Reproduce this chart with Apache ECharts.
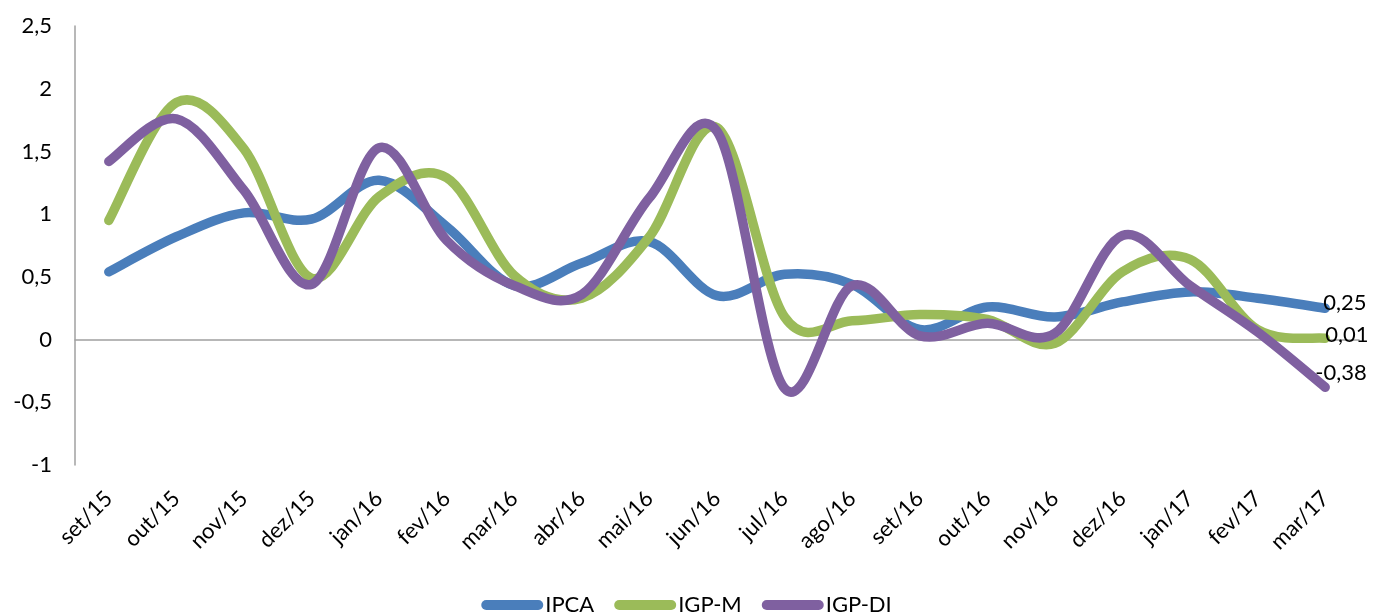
<!DOCTYPE html>
<html>
<head>
<meta charset="utf-8">
<script src="https://cdn.jsdelivr.net/npm/echarts@6/dist/echarts.min.js"></script>
<style>
  html, body { margin: 0; padding: 0; background: #fff; }
  #main { width: 1373px; height: 612px; }
</style>
</head>
<body>
<div id="main"></div>
<script>
var months = ["set/15", "out/15", "nov/15", "dez/15", "jan/16", "fev/16", "mar/16", "abr/16", "mai/16", "jun/16",
  "jul/16", "ago/16", "set/16", "out/16", "nov/16", "dez/16", "jan/17", "fev/17", "mar/17"];
var ipca = [0.54, 0.82, 1.01, 0.96, 1.27, 0.90, 0.43, 0.61, 0.78, 0.35, 0.52, 0.44, 0.08, 0.26, 0.18, 0.30, 0.38, 0.33, 0.25];
var igpm = [0.95, 1.89, 1.52, 0.49, 1.14, 1.29, 0.51, 0.33, 0.82, 1.69, 0.18, 0.15, 0.20, 0.16, -0.03, 0.54, 0.64, 0.08, 0.01];
var igpdi = [1.42, 1.76, 1.19, 0.44, 1.53, 0.79, 0.43, 0.36, 1.13, 1.66, -0.39, 0.43, 0.03, 0.13, 0.05, 0.83, 0.43, 0.06, -0.38];

var FONT = "Lato";
var FS = 22;
var fmt = function (v) { return String(v).replace(".", ","); };

var myChart = echarts.init(document.getElementById("main"));

// excel-like smoothing: cubic bezier through the points (catmull-rom, /6)
function smoothPath(pts) {
  var n = pts.length;
  var d = "M" + pts[0][0] + " " + pts[0][1];
  for (var i = 0; i < n - 1; i++) {
    var p0 = pts[Math.max(i - 1, 0)], p1 = pts[i], p2 = pts[i + 1], p3 = pts[Math.min(i + 2, n - 1)];
    var c1x = p1[0] + (p2[0] - p0[0]) / 6, c1y = p1[1] + (p2[1] - p0[1]) / 6;
    var c2x = p2[0] - (p3[0] - p1[0]) / 6, c2y = p2[1] - (p3[1] - p1[1]) / 6;
    d += " C" + c1x + " " + c1y + " " + c2x + " " + c2y + " " + p2[0] + " " + p2[1];
  }
  return d;
}

function curveSeries(name, vals, color, labelOffset) {
  return {
    name: name,
    type: "custom",
    data: vals.map(function (v, i) { return [i, v]; }),
    encode: { x: 0, y: 1 },
    itemStyle: { color: color },
    renderItem: function (params, api) {
      if (params.dataIndex !== 0) return null;
      var pts = vals.map(function (v, i) { return api.coord([i, v]); });
      var last = pts[pts.length - 1];
      return {
        type: "group",
        children: [
          {
            type: "path",
            shape: { pathData: smoothPath(pts) },
            style: { fill: null, stroke: color, lineWidth: 9.5, lineCap: "round", lineJoin: "round" }
          },
          {
            type: "text",
            x: last[0] + labelOffset[0],
            y: last[1] + labelOffset[1],
            style: {
              text: fmt(vals[vals.length - 1]),
              fill: "#000",
              font: FS + "px " + FONT,
              align: "left",
              verticalAlign: "middle"
            }
          }
        ]
      };
    }
  };
}

var legendIcon = "path://M5,0 L57,0 A5,5 0 0 1 57,10 L5,10 A5,5 0 0 1 5,0 Z";

myChart.setOption({
  animation: false,
  grid: { left: 75, right: 14, top: 26, bottom: 147, containLabel: false },
  legend: {
    data: ["IPCA", "IGP-M", "IGP-DI"],
    icon: legendIcon,
    top: 589,
    left: "center",
    itemWidth: 62,
    itemHeight: 10,
    itemGap: 20,
    textStyle: { fontFamily: FONT, fontSize: FS, color: "#000", padding: [0, 0, 0, -3] }
  },
  xAxis: [
    {
      type: "category",
      data: months,
      boundaryGap: true,
      axisLine: { show: false, onZero: false },
      axisTick: { show: false },
      axisLabel: { rotate: 45, margin: 30, interval: 0, fontFamily: FONT, fontSize: FS, color: "#000" }
    },
    {
      type: "category",
      data: months,
      position: "bottom",
      axisLine: { show: true, onZero: true, lineStyle: { color: "#a0a0a0", width: 1.5 } },
      axisTick: { show: false },
      axisLabel: { show: false },
      splitLine: { show: false }
    }
  ],
  yAxis: {
    type: "value",
    min: -1,
    max: 2.5,
    interval: 0.5,
    axisLine: { show: true, lineStyle: { color: "#a0a0a0", width: 1.5 } },
    axisTick: { show: false },
    splitLine: { show: false },
    axisLabel: { margin: 23, fontFamily: FONT, fontSize: FS, color: "#000", formatter: fmt }
  },
  series: [
    curveSeries("IPCA", ipca, "#4a7ebb", [-2, -5]),
    curveSeries("IGP-M", igpm, "#9bbb59", [0, -3]),
    curveSeries("IGP-DI", igpdi, "#7f60a0", [-10, -14])
  ]
});
</script>
</body>
</html>
